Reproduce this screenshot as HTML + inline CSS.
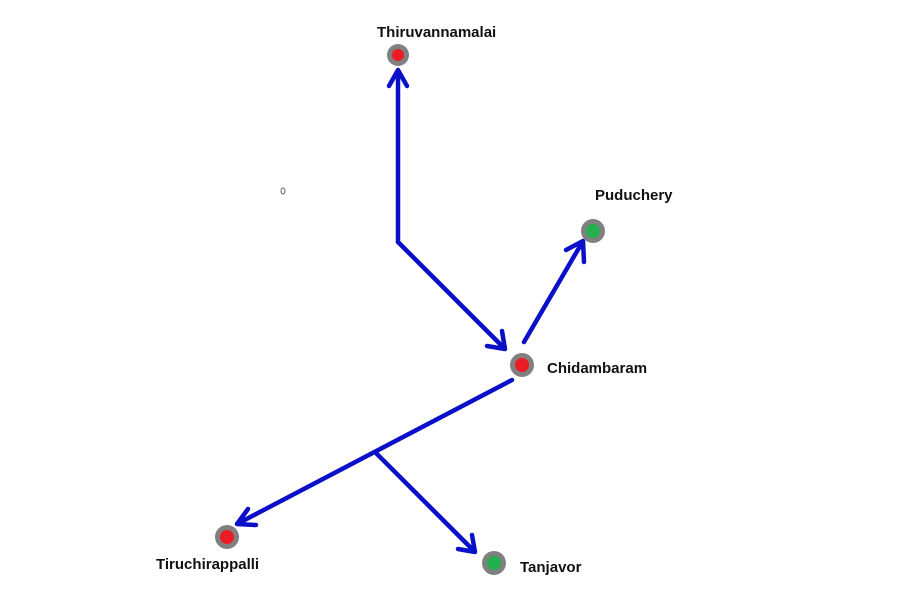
<html><body style="margin:0;background:#fff">
<svg width="904" height="603" xmlns="http://www.w3.org/2000/svg" style="display:block">
<g stroke="#0a10c8" stroke-width="4.5" fill="none" stroke-linecap="round" stroke-linejoin="round">
<path d="M398 242 L398 70 M389 86 L398 70 L407 86"/>
<path d="M398 242 L505 349 M487 346 L505 349 L502 331"/>
<path d="M524 342 L583 241 M566 250 L583 241 L584 262"/>
<path d="M512 380 L237 524 M248 509 L237 524 L256 525"/>
<path d="M376 453 L475 552 M458 549 L475 552 L472 535"/>
</g>
<g fill="#808080">
<circle cx="398" cy="55" r="11"/><circle cx="593" cy="231" r="12"/><circle cx="522" cy="365" r="12"/><circle cx="227" cy="537" r="12"/><circle cx="494" cy="563" r="12"/>
</g>
<circle cx="398" cy="55" r="6" fill="#ed1c24"/>
<circle cx="593" cy="231" r="7" fill="#22b14c"/>
<circle cx="522" cy="365" r="7" fill="#ed1c24"/>
<circle cx="227" cy="537" r="7" fill="#ed1c24"/>
<circle cx="494" cy="563" r="7" fill="#22b14c"/>
<ellipse cx="283" cy="191" rx="2" ry="3" fill="none" stroke="#666" stroke-width="1"/>
<g font-family="Liberation Sans, sans-serif" font-weight="bold" font-size="15" fill="#111">
<text x="377" y="37">Thiruvannamalai</text>
<text x="595" y="200">Puduchery</text>
<text x="547" y="373">Chidambaram</text>
<text x="156" y="569">Tiruchirappalli</text>
<text x="520" y="572">Tanjavor</text>
</g>
</svg>
</body></html>
